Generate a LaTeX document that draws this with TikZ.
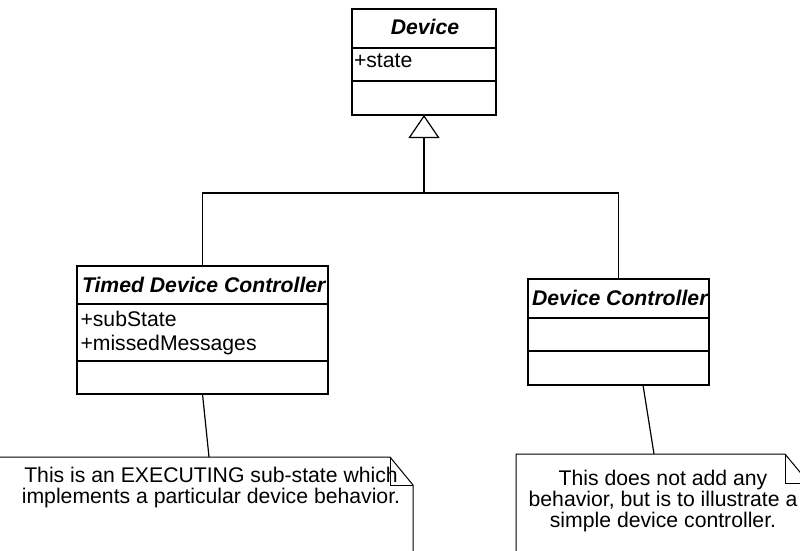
\documentclass[tikz,border=0pt]{standalone}
\usepackage{fontspec}
\setmainfont{Liberation Sans}
\usetikzlibrary{arrows.meta}
\begin{document}
\begin{tikzpicture}[x=1pt,y=-1pt,
  every node/.style={inner sep=0pt,outer sep=0pt},
  classbox/.style={draw,line width=1.8pt,rectangle,anchor=north west},
  divider/.style={line width=1.8pt},
  titletext/.style={font=\fontsize{21.2}{21.2}\selectfont\bfseries\itshape},
  attrtext/.style={font=\fontsize{21.2}{21.2}\selectfont,anchor=base west},
  notetext/.style={font=\fontsize{21.2}{21.2}\selectfont,anchor=base},
  notearea/.style={rectangle,anchor=north west},
  noteline/.style={line width=1pt},
  link/.style={line width=1.2pt},
  inherit/.style={line width=1.2pt,-{Triangle[open,length=23pt,width=31pt,line width=1.2pt]}}
]
\useasboundingbox (0,0) rectangle (800,550);
\fill[white] (0,0) rectangle (800,550);

% ---- class Device ----
\node[classbox,minimum width=144pt,minimum height=106pt] (device) at (352,9) {};
\draw[divider] (device.west |- 0,48) -- (device.east |- 0,48);
\draw[divider] (device.west |- 0,81) -- (device.east |- 0,81);
\node[titletext,anchor=base] (deviceTitle) at (425,34) {Device};
\node[attrtext] (deviceState) at (354,67) {+state};

% ---- class Timed Device Controller ----
\node[classbox,minimum width=251pt,minimum height=128pt] (tdc) at (77,266) {};
\draw[divider] (tdc.west |- 0,304) -- (tdc.east |- 0,304);
\draw[divider] (tdc.west |- 0,361) -- (tdc.east |- 0,361);
\node[titletext,anchor=base west] (tdcTitle) at (82,292) {Timed Device Controller};
\node[attrtext] (tdcSub) at (80.5,326) {+subState};
\node[attrtext] (tdcMissed) at (80.5,350) {+missedMessages};

% ---- class Device Controller ----
\node[classbox,minimum width=181pt,minimum height=106pt] (dc) at (528,279) {};
\draw[divider] (dc.west |- 0,318) -- (dc.east |- 0,318);
\draw[divider] (dc.west |- 0,351) -- (dc.east |- 0,351);
\node[titletext,anchor=base west] (dcTitle) at (532,305) {Device Controller};

% ---- generalization ----
\coordinate (join) at (424,193);
\draw[link] (tdc.north) |- (join) -| (dc.north);
\draw[inherit] (join) -- (device.south);

% ---- notes ----
\node[notearea,minimum width=415pt,minimum height=110pt] (noteL) at (-2,457) {};
\draw[noteline] (noteL.south west) -- (noteL.north west)
  -- ([xshift=-23pt]noteL.north east) -- ([yshift=-28pt]noteL.north east)
  -- (noteL.south east);
\draw[noteline] ([xshift=-23pt]noteL.north east) -- ([xshift=-23pt,yshift=-28pt]noteL.north east)
  -- ([yshift=-28pt]noteL.north east);
\node[notetext] (noteL1) at (211,482) {This is an EXECUTING sub-state which};
\node[notetext] (noteL2) at (211,503.5) {implements a particular device behavior.};

\node[notearea,minimum width=293pt,minimum height=110pt] (noteR) at (516,454) {};
\draw[noteline] (noteR.south west) -- (noteR.north west)
  -- ([xshift=-24pt]noteR.north east) -- ([yshift=-29pt]noteR.north east)
  -- (noteR.south east);
\draw[noteline] ([xshift=-24pt]noteR.north east) -- ([xshift=-24pt,yshift=-29pt]noteR.north east)
  -- ([yshift=-29pt]noteR.north east);
\node[notetext] (noteR1) at (663,485) {This does not add any};
\node[notetext] (noteR2) at (663,506) {behavior, but is to illustrate a};
\node[notetext] (noteR3) at (663,527) {simple device controller.};

% ---- note anchors ----
\draw[link] (tdc.south) -- ([xshift=3.5pt]noteL.north);
\draw[link] ([xshift=24.5pt]dc.south) -- ([xshift=-8.5pt]noteR.north);
\end{tikzpicture}
\end{document}
